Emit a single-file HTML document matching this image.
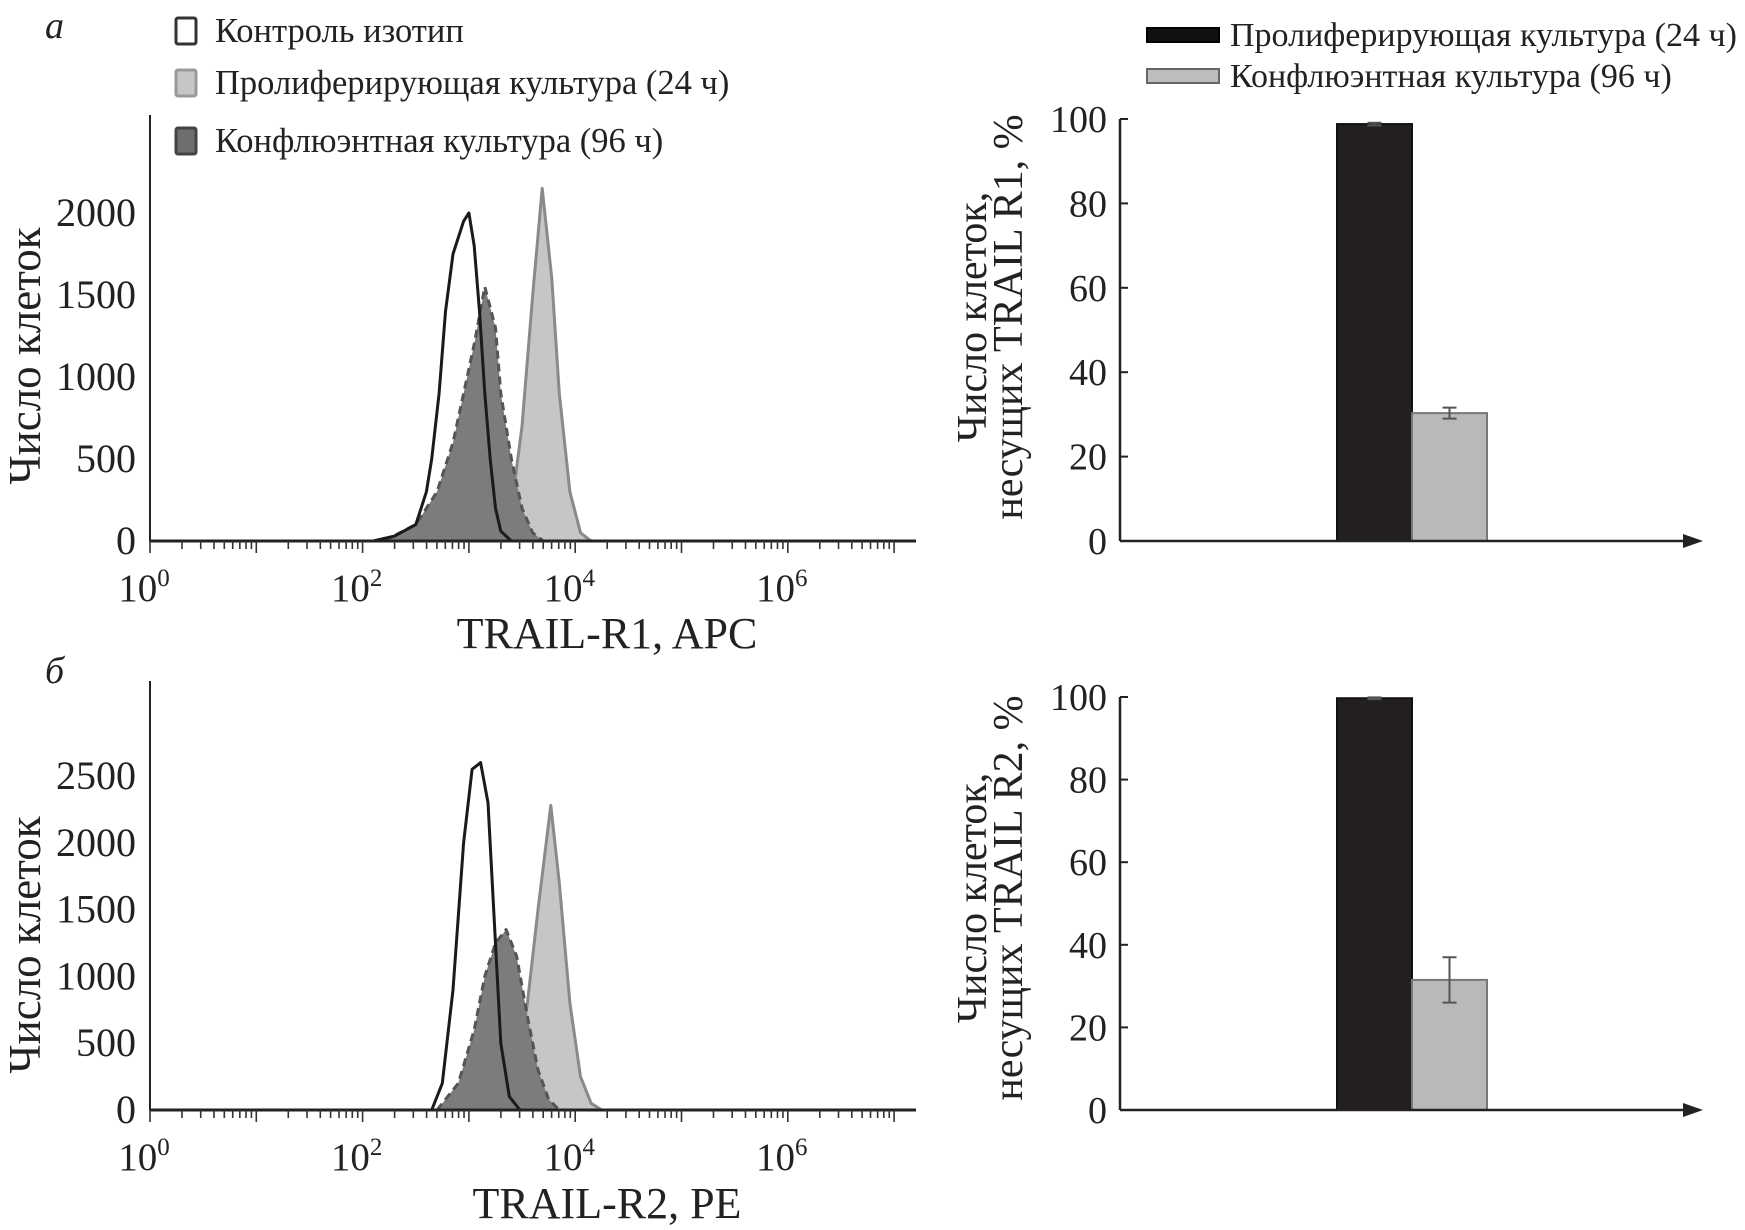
<!DOCTYPE html>
<html><head><meta charset="utf-8">
<style>
html,body{margin:0;padding:0;background:#fff;}
svg{display:block;font-family:"Liberation Serif","DejaVu Serif",serif;}
</style></head>
<body>
<svg id="fig" width="1745" height="1230" viewBox="0 0 1745 1230" xmlns="http://www.w3.org/2000/svg"></svg>
<script>
// ---------- data ----------
const histATicks = [0, 500, 1000, 1500, 2000];
const histBTicks = [0, 500, 1000, 1500, 2000, 2500];
const decadeTicks = [0, 2, 4, 6];
const aCtrlX = [2.1,2.3,2.5,2.6,2.65,2.72,2.78,2.85,2.95,3.0,3.05,3.1,3.15,3.2,3.25,3.3,3.4];
const aCtrlY = [0,30,100,300,500,900,1400,1750,1950,2000,1800,1400,900,500,200,60,0];
const aConfX = [2.2,2.5,2.7,2.85,2.95,3.05,3.15,3.25,3.3,3.4,3.5,3.6,3.7];
const aConfY = [0,100,300,600,900,1200,1550,1300,900,500,200,50,0];
const aProlX = [3.3,3.4,3.5,3.6,3.69,3.78,3.85,3.95,4.05,4.15];
const aProlY = [0,200,700,1500,2150,1600,900,300,50,0];
const bCtrlX = [2.65,2.75,2.85,2.95,3.03,3.11,3.18,3.24,3.3,3.38,3.48];
const bCtrlY = [0,200,900,2000,2550,2600,2300,1400,500,100,0];
const bConfX = [2.7,2.9,3.05,3.15,3.25,3.35,3.45,3.55,3.65,3.75,3.85];
const bConfY = [0,200,600,1000,1250,1350,1150,700,300,80,0];
const bProlX = [3.3,3.45,3.55,3.65,3.77,3.85,3.95,4.05,4.15,4.25];
const bProlY = [0,300,800,1500,2280,1700,800,250,50,0];
const barTicks = [0,20,40,60,80,100];
const barCategories = ["Пролиферирующая культура (24 ч)","Конфлюэнтная культура (96 ч)"];
const barAValues = [98.8, 30.3];
const barAErrors = [0.3, 1.3];
const barBValues = [99.7, 31.5];
const barBErrors = [0.2, 5.5];

const NS="http://www.w3.org/2000/svg";
const svg=document.getElementById('fig');
function mk(tag, attrs, parent, text){
  const e=document.createElementNS(NS,tag);
  for(const k in attrs) e.setAttribute(k,attrs[k]);
  if(text!==undefined) e.textContent=text;
  (parent||svg).appendChild(e);
  return e;
}

function histogram(cfg){
  const g=mk('g',{});
  
  
  const x0=150, dec=106.3, xEnd=916;
  const xs=v=>x0+v*dec;
  const ys=v=>cfg.base - v*cfg.per;
  const ya=mk('line',{x1:x0,y1:cfg.top,x2:x0,y2:cfg.base,stroke:'#222','stroke-width':2},g);
  
  
  cfg.yticks.forEach(t=>{
    const tl=mk('text',{x:x0-14,y:ys(t)+13,'text-anchor':'end','font-size':40,fill:'#222'},g,String(t));
    
    
  });
  function area(xa,ya2,fill,stroke,dash,name){
    let d='M'+xs(xa[0])+','+cfg.base;
    xa.forEach((v,i)=>{d+=' L'+xs(v).toFixed(1)+','+ys(ya2[i]).toFixed(1);});
    d+=' L'+xs(xa[xa.length-1])+','+cfg.base;
    const p=mk('path',{d:d,fill:fill,stroke:stroke,'stroke-width':3,'stroke-dasharray':dash||'none','stroke-linejoin':'round'},g);
    
    
  }
  area(cfg.prolX,cfg.prolY,'#c6c6c6','#8a8a8a',null,'proliferating-histogram');
  area(cfg.confX,cfg.confY,'#7c7c7c','#555','8,5','confluent-histogram');
  area(cfg.ctrlX,cfg.ctrlY,'none','#1a1a1a',null,'isotype-control-histogram');
  const xa=mk('line',{x1:x0,y1:cfg.base,x2:xEnd,y2:cfg.base,stroke:'#222','stroke-width':3},g);
  
  
  for(let d=0; d<=7; d++){
    for(let m=1;m<=9;m++){
      const lv=d+Math.log10(m);
      const x=xs(lv); if(x>xEnd-4) break;
      const len=(m===1)?12:8;
      mk('line',{x1:x,y1:cfg.base,x2:x,y2:cfg.base+len,stroke:'#333','stroke-width':1.6},g);
    }
  }
  decadeTicks.forEach(d=>{
    const t=mk('text',{x:xs(d)-6,y:cfg.base+60,'text-anchor':'middle','font-size':39,fill:'#222'},g);
    
    
    mk('tspan',{},t,'10');
    mk('tspan',{dy:-15,'font-size':25},t,String(d));
  });
  const xt=mk('text',{x:607,y:cfg.xlabY,'text-anchor':'middle','font-size':44,fill:'#222'},g,cfg.xlabel);
  
  
  const yt=mk('text',{x:0,y:0,'text-anchor':'middle','font-size':45,fill:'#222',transform:'translate(40,'+cfg.ylabCy+') rotate(-90)'},g,'Число клеток');
  
  
  const pl=mk('text',{x:45,y:cfg.panelY,'font-size':38,'font-style':'italic',fill:'#222'},g,cfg.panel);
  
  
}

histogram({name:'histogram-trail-r1',top:115,base:541,per:82/500,yticks:histATicks,
  ctrlX:aCtrlX,ctrlY:aCtrlY,confX:aConfX,confY:aConfY,prolX:aProlX,prolY:aProlY,
  xlabel:'TRAIL-R1, APC',xlabY:648,ylabCy:356,panel:'а',panelY:38});
histogram({name:'histogram-trail-r2',top:681,base:1110,per:66.8/500,yticks:histBTicks,
  ctrlX:bCtrlX,ctrlY:bCtrlY,confX:bConfX,confY:bConfY,prolX:bProlX,prolY:bProlY,
  xlabel:'TRAIL-R2, PE',xlabY:1218,ylabCy:945,panel:'б',panelY:683});

const hl=mk('g',{});


[['Контроль изотип','#fff','#333',31],['Пролиферирующая культура (24 ч)','#c6c6c6','#999',83],['Конфлюэнтная культура (96 ч)','#6e6e6e','#444',141]].forEach(r=>{
  const e=mk('g',{},hl);
  
  
  mk('rect',{x:176,y:r[3]-13,width:20,height:26,rx:2,fill:r[1],stroke:r[2],'stroke-width':3},e);
  mk('text',{x:215,y:r[3]+11,'font-size':34.5,fill:'#222'},e,r[0]);
});

function bars(cfg){
  const g=mk('g',{});
  
  
  const x0=1120, xEnd=1703;
  const ys=v=>cfg.base - v*(cfg.base-cfg.top)/100;
  const ya=mk('line',{x1:x0,y1:cfg.top,x2:x0,y2:cfg.base,stroke:'#222','stroke-width':2.5},g);
  
  
  barTicks.forEach(t=>{
    mk('line',{x1:x0,y1:ys(t),x2:x0+8,y2:ys(t),stroke:'#222','stroke-width':2},g);
    const tl=mk('text',{x:1107,y:ys(t)+13,'text-anchor':'end','font-size':38,fill:'#222'},g,String(t));
    
    
  });
  const xs=[1337,1412], w=75, fills=['#231f20','#b9b9b9'], strokes=['#111','#777'];
  cfg.values.forEach((v,i)=>{
    const b=mk('rect',{x:xs[i],y:ys(v),width:w,height:cfg.base-ys(v),fill:fills[i],stroke:strokes[i],'stroke-width':2},g);
    
    
    const cx=xs[i]+w/2, e=cfg.errors[i];
    const eb=mk('path',{d:'M'+(cx-7)+','+ys(v+e)+' H'+(cx+7)+' M'+cx+','+ys(v+e)+' V'+ys(v-e)+' M'+(cx-7)+','+ys(v-e)+' H'+(cx+7),stroke:'#555','stroke-width':2,fill:'none'},g);
    
    
  });
  const xa=mk('line',{x1:x0,y1:cfg.base,x2:xEnd-12,y2:cfg.base,stroke:'#222','stroke-width':2.5},g);
  
  
  mk('path',{d:'M'+xEnd+','+cfg.base+' l-20,-7 l0,14 z',fill:'#222'},g);
  const t1=mk('text',{'text-anchor':'middle','font-size':42,fill:'#222',transform:'translate(986,'+cfg.ylabCy+') rotate(-90)'},g,'Число клеток,');
  
  
  const t2=mk('text',{'text-anchor':'middle','font-size':42,fill:'#222',transform:'translate(1022,'+cfg.ylabCy+') rotate(-90)'},g,cfg.ylabel);
  
  
}
bars({name:'bar-chart-trail-r1',top:119,base:541,values:barAValues,errors:barAErrors,ylabel:'несущих TRAIL R1, %',ylabCy:317});
bars({name:'bar-chart-trail-r2',top:697,base:1110,values:barBValues,errors:barBErrors,ylabel:'несущих TRAIL R2, %',ylabCy:898});

const bl=mk('g',{});


[[barCategories[0],'#111','#000',35],[barCategories[1],'#bdbdbd','#666',76]].forEach(r=>{
  const e=mk('g',{},bl);
  
  
  mk('rect',{x:1147,y:r[3]-7,width:72,height:14,fill:r[1],stroke:r[2],'stroke-width':2},e);
  mk('text',{x:1230,y:r[3]+11,'font-size':34,fill:'#222'},e,r[0]);
});
</script>
</body></html>
